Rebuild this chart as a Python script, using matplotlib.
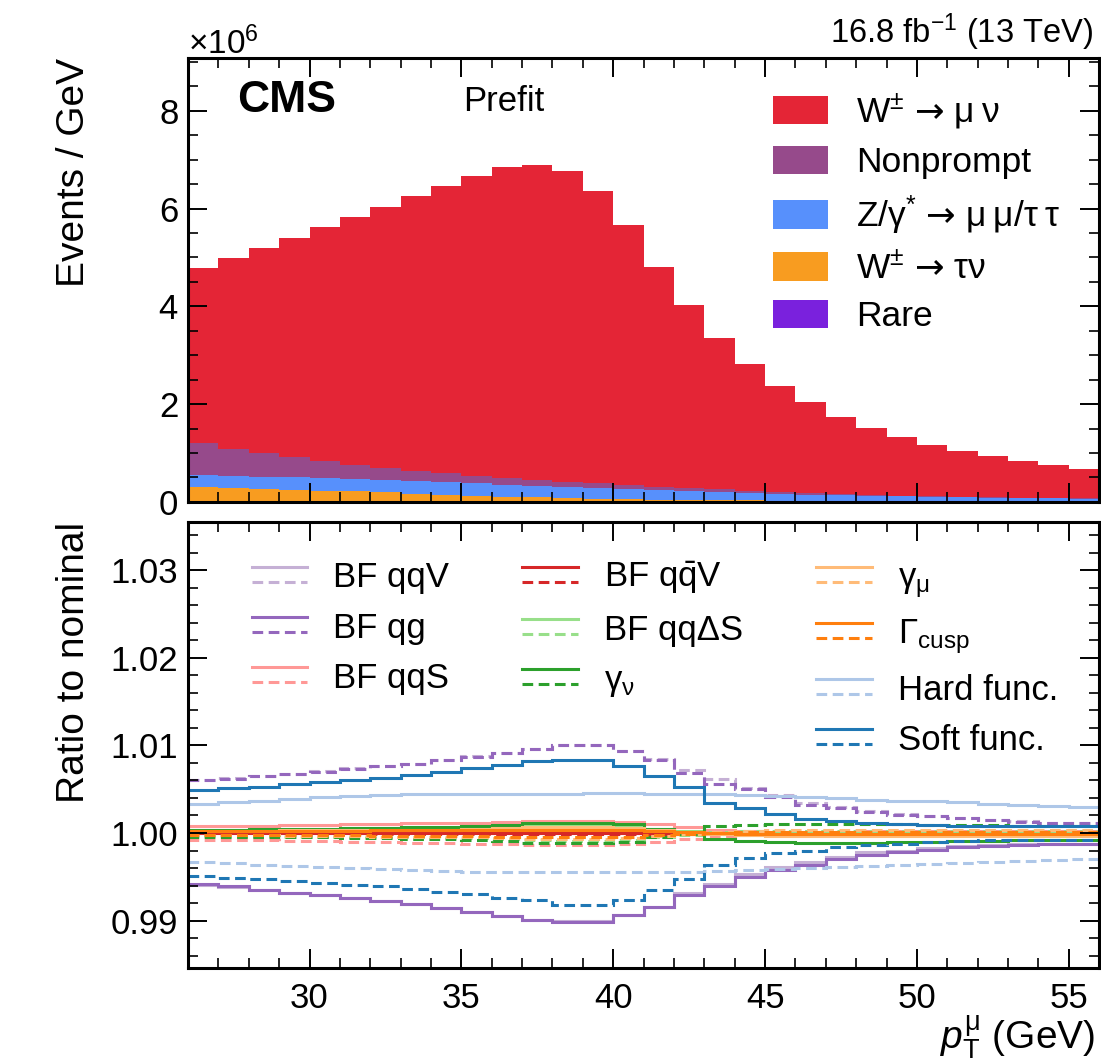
import numpy as np
import matplotlib
matplotlib.use("Agg")
import matplotlib.pyplot as plt
from matplotlib.lines import Line2D
from matplotlib.legend_handler import HandlerBase
from matplotlib.ticker import MultipleLocator, ScalarFormatter

plt.rcParams["font.family"] = ["Liberation Sans", "DejaVu Sans"]
plt.rcParams["mathtext.fontset"] = "custom"
plt.rcParams["mathtext.rm"] = "Liberation Sans"
plt.rcParams["mathtext.it"] = "Liberation Sans:italic"
plt.rcParams["mathtext.bf"] = "Liberation Sans:bold"
plt.rcParams["mathtext.tt"] = "DejaVu Sans"  # wider arrow glyph

# ----------------------------
# data (pT bins 26..56 GeV, 1 GeV wide)
# ----------------------------
edges = np.arange(26, 57, 1)

# stacked components, events/GeV in units of 1e6
rare = [0.004] * 30
w_taunu = [0.30, 0.29, 0.27, 0.25, 0.23, 0.21, 0.19, 0.16, 0.14, 0.12,
           0.10, 0.09, 0.075, 0.06, 0.055, 0.045, 0.04, 0.035, 0.03, 0.025,
           0.022, 0.02, 0.018, 0.016, 0.014, 0.012, 0.011, 0.010, 0.009, 0.008]
z_mumu = [0.25, 0.24, 0.24, 0.25, 0.25, 0.25, 0.25, 0.26, 0.26, 0.26,
          0.25, 0.24, 0.235, 0.23, 0.215, 0.205, 0.19, 0.165, 0.15, 0.135,
          0.118, 0.11, 0.102, 0.094, 0.086, 0.078, 0.069, 0.065, 0.061, 0.052]
nonprompt = [0.65, 0.55, 0.48, 0.41, 0.35, 0.30, 0.26, 0.21, 0.18, 0.15,
             0.14, 0.12, 0.10, 0.09, 0.07, 0.06, 0.06, 0.06, 0.05, 0.04,
             0.04, 0.03, 0.02, 0.01, 0.01, 0.01, 0.01, 0.005, 0.005, 0.01]
w_munu = [3.58, 3.90, 4.20, 4.48, 4.78, 5.06, 5.33, 5.62, 5.88, 6.14,
          6.35, 6.44, 6.35, 5.97, 5.32, 4.50, 3.73, 3.09, 2.58, 2.17,
          1.85, 1.58, 1.37, 1.21, 1.06, 0.94, 0.84, 0.75, 0.675, 0.61]

ARROW = "$\\mathtt{\u2192}$"
stack_labels = ["Rare", "W$^{\\pm}$ " + ARROW + " \u03c4\u03bd",
                "Z/\u03b3$^{*}$ " + ARROW + " \u03bc\u2009\u03bc/\u03c4\u2009\u03c4", "Nonprompt",
                "W$^{\\pm}$ " + ARROW + " \u03bc\u2009\u03bd"]
stack_colors = ["#7a21dd", "#f89c20", "#5790fc", "#964a8b", "#e42536"]

# ratio to nominal, (solid, dashed) per variation
bf_qqv = ([0.9941, 0.9938, 0.9935, 0.9932, 0.9929, 0.9926, 0.9922, 0.9919, 0.9915, 0.9910,
           0.9905, 0.9901, 0.9900, 0.9900, 0.9906, 0.9916, 0.9931, 0.9942, 0.9953, 0.9961,
           0.9967, 0.9973, 0.9978, 0.9980, 0.9983, 0.9985, 0.9986, 0.9987, 0.9988, 0.9988],
          [1.0061, 1.0063, 1.0065, 1.0067, 1.0071, 1.0074, 1.0076, 1.0079, 1.0083, 1.0088,
           1.0091, 1.0096, 1.0100, 1.0100, 1.0094, 1.0084, 1.0072, 1.0062, 1.0051, 1.0043,
           1.0034, 1.0030, 1.0025, 1.0022, 1.0019, 1.0017, 1.0015, 1.0014, 1.0012, 1.0012])
bf_qg = ([0.9942, 0.9939, 0.9935, 0.9932, 0.9929, 0.9926, 0.9922, 0.9919, 0.9915, 0.9910,
          0.9905, 0.9901, 0.9899, 0.9899, 0.9906, 0.9916, 0.9929, 0.9939, 0.9950, 0.9958,
          0.9963, 0.9970, 0.9975, 0.9978, 0.9981, 0.9984, 0.9985, 0.9986, 0.9987, 0.9988],
         [1.0060, 1.0062, 1.0065, 1.0067, 1.0070, 1.0073, 1.0076, 1.0079, 1.0083, 1.0087,
          1.0091, 1.0096, 1.0101, 1.0101, 1.0094, 1.0083, 1.0069, 1.0056, 1.0050, 1.0041,
          1.0032, 1.0028, 1.0024, 1.0021, 1.0019, 1.0017, 1.0015, 1.0013, 1.0012, 1.0011])
bf_qqs = ([1.0008, 1.0008, 1.0008, 1.0009, 1.0009, 1.0010, 1.0010, 1.0011, 1.0011, 1.0012,
           1.0013, 1.0014, 1.0014, 1.0014, 1.0013, 1.0010, 1.0007, 1.0004, 1.0002, 1.0001,
           0.9999, 0.9999, 0.9998, 0.9998, 0.9998, 0.9998, 0.9998, 0.9998, 0.9998, 0.9998],
          [0.9992, 0.9992, 0.9992, 0.9991, 0.9991, 0.9990, 0.9990, 0.9989, 0.9989, 0.9988,
           0.9987, 0.9986, 0.9986, 0.9986, 0.9987, 0.9990, 0.9993, 0.9996, 0.9998, 0.9999,
           1.0001, 1.0001, 1.0002, 1.0002, 1.0002, 1.0002, 1.0002, 1.0002, 1.0002, 1.0002])
bf_qqbarv = ([1.0000] * 30, [0.9999] * 30)
bf_qqds = ([1.0003, 1.0003, 1.0003, 1.0004, 1.0004, 1.0004, 1.0005, 1.0005, 1.0006, 1.0006,
            1.0007, 1.0008, 1.0009, 1.0009, 1.0008, 1.0005, 1.0002, 0.9999, 0.9998, 0.9998,
            0.9998, 0.9998, 0.9998, 0.9998, 0.9998, 0.9998, 0.9998, 0.9998, 0.9998, 0.9998],
           [0.9997, 0.9997, 0.9997, 0.9996, 0.9996, 0.9996, 0.9995, 0.9995, 0.9994, 0.9994,
            0.9993, 0.9992, 0.9991, 0.9991, 0.9992, 0.9995, 0.9998, 1.0001, 1.0002, 1.0002,
            1.0002, 1.0002, 1.0002, 1.0002, 1.0002, 1.0002, 1.0002, 1.0002, 1.0002, 1.0002])
gamma_nu = ([1.0004, 1.0004, 1.0005, 1.0005, 1.0005, 1.0006, 1.0006, 1.0007, 1.0007, 1.0008,
             1.0009, 1.0011, 1.0011, 1.0011, 1.0010, 1.0005, 1.0001, 0.9993, 0.9991, 0.9990,
             0.9989, 0.9989, 0.9989, 0.9990, 0.9990, 0.9991, 0.9991, 0.9992, 0.9992, 0.9992],
            [0.9996, 0.9996, 0.9995, 0.9995, 0.9995, 0.9994, 0.9994, 0.9993, 0.9993, 0.9992,
             0.9991, 0.9989, 0.9989, 0.9989, 0.9990, 0.9996, 0.9999, 1.0008, 1.0009, 1.0010,
             1.0010, 1.0010, 1.0010, 1.0010, 1.0009, 1.0009, 1.0009, 1.0008, 1.0008, 1.0008])
gamma_mu = ([1.0002, 1.0002, 1.0002, 1.0003, 1.0003, 1.0003, 1.0004, 1.0004, 1.0004, 1.0005,
             1.0006, 1.0007, 1.0007, 1.0007, 1.0006, 1.0003, 1.0001, 0.9999, 0.9998, 0.9997,
             0.9997, 0.9997, 0.9997, 0.9997, 0.9997, 0.9997, 0.9997, 0.9997, 0.9997, 0.9997],
            [0.9998, 0.9998, 0.9998, 0.9997, 0.9997, 0.9997, 0.9996, 0.9996, 0.9996, 0.9995,
             0.9994, 0.9993, 0.9993, 0.9993, 0.9994, 0.9997, 0.9999, 1.0001, 1.0002, 1.0003,
             1.0003, 1.0003, 1.0003, 1.0003, 1.0003, 1.0003, 1.0003, 1.0003, 1.0003, 1.0003])
gamma_cusp = ([1.0002, 1.0002, 1.0002, 1.0002, 1.0002, 1.0002, 1.0003, 1.0003, 1.0003, 1.0003,
               1.0004, 1.0004, 1.0004, 1.0004, 1.0004, 1.0002, 1.0001, 1.0000, 0.9999, 0.9999,
               0.9999, 0.9999, 0.9999, 0.9999, 0.9999, 0.9999, 0.9999, 0.9999, 0.9999, 0.9999],
              [0.9998, 0.9998, 0.9998, 0.9998, 0.9998, 0.9998, 0.9997, 0.9997, 0.9997, 0.9997,
               0.9996, 0.9996, 0.9996, 0.9996, 0.9996, 0.9998, 0.9999, 1.0000, 1.0001, 1.0001,
               1.0001, 1.0001, 1.0001, 1.0001, 1.0001, 1.0001, 1.0001, 1.0001, 1.0001, 1.0001])
hard_func = ([1.0033, 1.0035, 1.0037, 1.0039, 1.0041, 1.0042, 1.0043, 1.0044, 1.0044, 1.0045,
              1.0045, 1.0045, 1.0045, 1.0046, 1.0046, 1.0045, 1.0045, 1.0044, 1.0043, 1.0042,
              1.0041, 1.0040, 1.0038, 1.0037, 1.0036, 1.0035, 1.0033, 1.0032, 1.0031, 1.0030],
             [0.9967, 0.9966, 0.9964, 0.9962, 0.9961, 0.9960, 0.9959, 0.9958, 0.9957, 0.9956,
              0.9955, 0.9955, 0.9955, 0.9955, 0.9955, 0.9955, 0.9956, 0.9957, 0.9958, 0.9959,
              0.9960, 0.9961, 0.9962, 0.9963, 0.9965, 0.9966, 0.9967, 0.9968, 0.9969, 0.9970])
soft_func = ([1.0049, 1.0051, 1.0053, 1.0056, 1.0058, 1.0061, 1.0063, 1.0066, 1.0070, 1.0074,
              1.0078, 1.0082, 1.0083, 1.0083, 1.0077, 1.0065, 1.0053, 1.0034, 1.0028, 1.0022,
              1.0016, 1.0014, 1.0011, 1.0010, 1.0009, 1.0008, 1.0008, 1.0008, 1.0008, 1.0008],
             [0.9951, 0.9949, 0.9947, 0.9945, 0.9943, 0.9941, 0.9939, 0.9936, 0.9933, 0.9930,
              0.9926, 0.9924, 0.9918, 0.9918, 0.9924, 0.9935, 0.9947, 0.9964, 0.9971, 0.9977,
              0.9980, 0.9984, 0.9986, 0.9988, 0.9990, 0.9991, 0.9992, 0.9992, 0.9992, 0.9992])

variations = [
    ("BF qqV", bf_qqv, "#c5b0d5"),
    ("BF qg", bf_qg, "#9467bd"),
    ("BF qqS", bf_qqs, "#ff9896"),
    ("BF q$\\bar{\\mathrm{q}}$V", bf_qqbarv, "#d62728"),
    ("BF qq\u0394S", bf_qqds, "#98df8a"),
    ("\u03b3$_{\\mathrm{\u03bd}}$", gamma_nu, "#2ca02c"),
    ("\u03b3$_{\\mathrm{\u03bc}}$", gamma_mu, "#ffbb78"),
    ("\u0393$_{\\mathrm{cusp}}$", gamma_cusp, "#ff7f0e"),
    ("Hard func.", hard_func, "#aec7e8"),
    ("Soft func.", soft_func, "#1f77b4"),
]
DASH = (0, (3.5, 1.8))


class HandlerUpDown(HandlerBase):
    """solid line on top, dashed line below"""

    def create_artists(self, legend, orig_handle, xdescent, ydescent,
                       width, height, fontsize, trans):
        if orig_handle.get_label() == "_blank":
            return [Line2D([], [], visible=False)]
        c = orig_handle.get_color()
        lw = orig_handle.get_linewidth()
        x = [-xdescent, -xdescent + width]
        top = Line2D(x, [0.95 * height - ydescent] * 2, color=c, lw=lw, ls="-", transform=trans)
        bot = Line2D(x, [0.15 * height - ydescent] * 2, color=c, lw=lw, ls=DASH, transform=trans)
        return [top, bot]


def style_axis(ax):
    ax.tick_params(which="both", direction="in", top=True, right=True, labelsize=25)
    ax.tick_params(which="major", length=14, width=1.4)
    ax.tick_params(which="minor", length=7, width=1.2)
    ax.tick_params(axis="x", which="major", pad=10)
    ax.tick_params(axis="y", which="major", pad=7)
    for s in ax.spines.values():
        s.set_linewidth(2.2)


fig = plt.figure(figsize=(11.01, 10.63), dpi=100)
ax1 = fig.add_axes([0.1708, 0.5278, 0.8275, 0.4177])
ax2 = fig.add_axes([0.1708, 0.0894, 0.8275, 0.4196])

# ----------------------------
# top: stacked prefit histogram
# ----------------------------
centers = edges[:-1] + 0.5
comps = [rare, w_taunu, z_mumu, nonprompt, w_munu]
weights = [np.array(c) * 1e6 for c in comps]
ax1.hist([centers] * len(comps), bins=edges, weights=weights, stacked=True,
         histtype="stepfilled", color=stack_colors, label=stack_labels)
ax1.set_xlim(26, 56)
ax1.set_ylim(0, 9.08e6)
ax1.xaxis.set_major_locator(MultipleLocator(5))
ax1.xaxis.set_minor_locator(MultipleLocator(1))
ax1.yaxis.set_major_locator(MultipleLocator(2e6))
ax1.yaxis.set_minor_locator(MultipleLocator(0.5e6))
fmt = ScalarFormatter(useMathText=True)
fmt.set_powerlimits((0, 0))
ax1.yaxis.set_major_formatter(fmt)
ax1.yaxis.get_offset_text().set_fontsize(24)
ax1.tick_params(labelbottom=False)
style_axis(ax1)
ax1.set_ylabel("Events / GeV", fontsize=28, loc="top")
ax1.yaxis.set_label_coords(-0.105, 1.0)

h, l = ax1.get_legend_handles_labels()
ax1.legend(h, l, loc="upper left", bbox_to_anchor=(0.642, 0.925),
           fontsize=25.5, frameon=False, handlelength=1.55, handleheight=0.85,
           labelspacing=0.4, handletextpad=0.8, borderpad=0, borderaxespad=0)

ax1.text(0.054, 0.95, "CMS", transform=ax1.transAxes, fontsize=32,
         fontweight="bold", va="top", ha="left")
ax1.text(0.302, 0.94, "Prefit", transform=ax1.transAxes, fontsize=25,
         va="top", ha="left")
ax1.text(0.993, 1.012, "16.8 fb$^{-1}$ (13 TeV)", transform=ax1.transAxes,
         fontsize=23.5, va="bottom", ha="right")

# ----------------------------
# bottom: ratio to nominal
# ----------------------------
handles = []
for label, (up, down), color in variations:
    ax2.stairs(up, edges, baseline=None, color=color, lw=2.2, ls="-")
    ax2.stairs(down, edges, baseline=None, color=color, lw=2.2, ls=DASH)
    handles.append(Line2D([], [], color=color, lw=2.2, label=label))

blank = Line2D([], [], label="_blank")
leg_h = handles[0:3] + [blank] + handles[3:6] + [blank] + handles[6:10]
leg_l = [hh.get_label() if hh is not blank else " " for hh in leg_h]
ax2.legend(leg_h, leg_l, ncol=3, loc="upper left", bbox_to_anchor=(0.07, 0.915),
           fontsize=25, frameon=False, handlelength=1.6, handleheight=0.45,
           labelspacing=0.5, handletextpad=0.75, columnspacing=2.1,
           borderpad=0, borderaxespad=0,
           handler_map={Line2D: HandlerUpDown()})

ax2.set_xlim(26, 56)
ax2.set_ylim(0.9846, 1.0355)
ax2.xaxis.set_major_locator(MultipleLocator(5))
ax2.xaxis.set_minor_locator(MultipleLocator(1))
ax2.yaxis.set_major_locator(MultipleLocator(0.01))
ax2.yaxis.set_minor_locator(MultipleLocator(0.002))
ax2.yaxis.set_major_formatter(plt.FormatStrFormatter("%.2f"))
style_axis(ax2)
ax2.set_ylabel("Ratio to nominal", fontsize=28, loc="top")
ax2.yaxis.set_label_coords(-0.105, 1.0)
ax2.set_xlabel("$p_{\\mathrm{T}}^{\\mathrm{\u03bc}}$ (GeV)", fontsize=28, loc="right")
ax2.xaxis.set_label_coords(0.995, -0.1)

fig.savefig("out.png", dpi=100)
